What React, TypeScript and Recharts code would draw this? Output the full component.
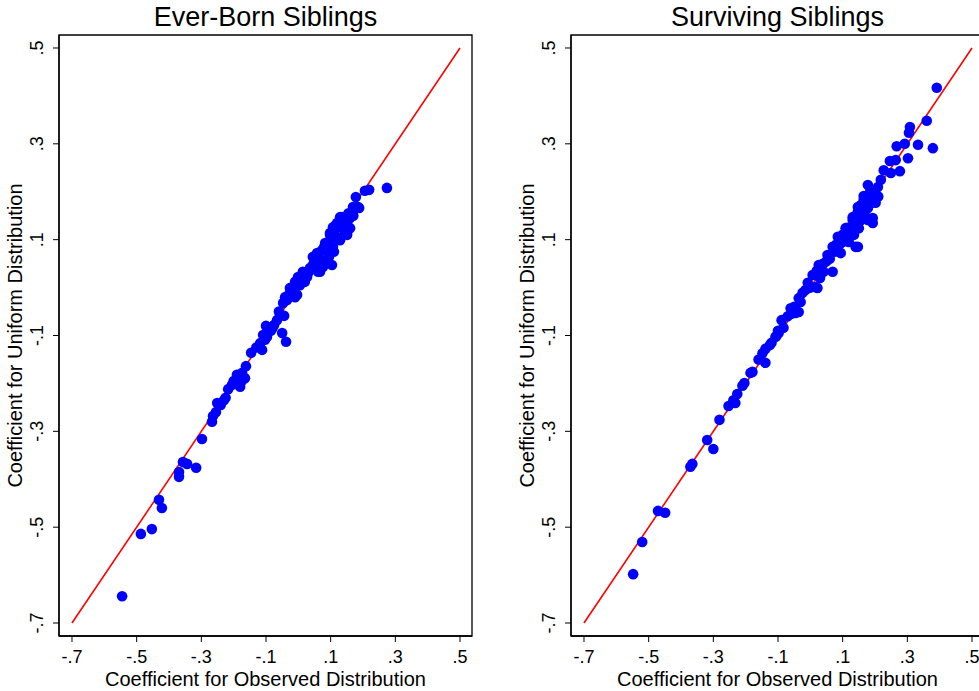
import React from "react";
import { ScatterChart, Scatter, XAxis, YAxis, ReferenceLine, ReferenceArea } from "recharts";

// shared tick values (both axes, both panels)
const tickValues = [-0.7, -0.5, -0.3, -0.1, 0.1, 0.3, 0.5];

// Ever-Born Siblings: observed vs uniform coefficients
const everBornObserved = [
  -0.545, -0.487, -0.453, -0.431, -0.422, -0.369, -0.369, -0.357, -0.344, -0.316,
  -0.298, -0.267, -0.264, -0.255, -0.251, -0.23, -0.217, -0.205, -0.19, -0.174,
  -0.18, -0.165, -0.162, -0.146, -0.112, -0.118, -0.103, -0.097, -0.109, -0.1,
  -0.075, -0.066, -0.05, -0.038, -0.057, -0.044, -0.047, -0.035, -0.026, -0.01,
  -0.016, -0.041, -0.004, -0.026, 0.005, -0.01, -0.001, 0.027, 0.014, 0.061,
  0.036, 0.045, 0.076, 0.104, 0.089, 0.092, 0.045, 0.058, 0.073, 0.107,
  0.083, 0.129, 0.151, 0.098, 0.144, 0.113, 0.12, 0.16, 0.151, 0.16,
  0.135, 0.188, 0.169, 0.178, 0.206, 0.219, 0.274, 0.185, 0.129, 0.067,
  0.125, 0.14, 0.1, 0.065, 0.03, 0.02, -0.015, 0.17, 0.11, 0.095,
  -0.085, -0.06, -0.13, -0.2, -0.175, 0.107, 0.098, 0.123,
  -0.02, 0.01, 0.05, 0.08, 0.115, 0.14, 0.155, -0.12, -0.08, -0.24, -0.225,
];
const everBornUniform = [
  -0.644, -0.514, -0.504, -0.443, -0.46, -0.395, -0.385, -0.364, -0.368, -0.376,
  -0.316, -0.28, -0.268, -0.26, -0.241, -0.235, -0.212, -0.203, -0.182, -0.178,
  -0.207, -0.189, -0.164, -0.136, -0.13, -0.116, -0.109, -0.103, -0.099, -0.08,
  -0.078, -0.068, -0.095, -0.113, -0.057, -0.059, -0.032, -0.026, -0.011, -0.02,
  -0.005, -0.02, -0.015, -0.001, 0.005, 0.012, 0.022, 0.022, 0.033, 0.033,
  0.041, 0.047, 0.043, 0.047, 0.058, 0.072, 0.064, 0.072, 0.078, 0.085,
  0.093, 0.099, 0.11, 0.11, 0.116, 0.12, 0.135, 0.124, 0.135, 0.145,
  0.147, 0.166, 0.168, 0.189, 0.202, 0.204, 0.208, 0.168, 0.147, 0.033,
  0.128, 0.122, 0.1, 0.06, 0.03, 0.012, 0.0, 0.15, 0.075, 0.065,
  -0.09, -0.05, -0.125, -0.195, -0.195, 0.126, 0.114, 0.104,
  0.0, 0.01, 0.05, 0.085, 0.13, 0.14, 0.155, -0.12, -0.085, -0.245, -0.23,
];

// Surviving Siblings
const survivingObserved = [
  -0.548, -0.52, -0.471, -0.449, -0.371, -0.365, -0.3, -0.319, -0.281, -0.253,
  -0.238, -0.232, -0.226, -0.204, -0.185, -0.179, -0.139, -0.139, -0.148, -0.105,
  -0.098, -0.083, -0.089, -0.108, -0.061, -0.046, -0.036, -0.036, -0.024, -0.008,
  0.016, 0.022, 0.007, 0.026, 0.041, 0.069, 0.053, 0.069, 0.094, 0.085,
  0.109, 0.119, 0.14, 0.147, 0.131, 0.15, 0.147, 0.147, 0.178, 0.193,
  0.193, 0.131, 0.147, 0.178, 0.156, 0.202, 0.193, 0.165, 0.209, 0.178,
  0.218, 0.249, 0.227, 0.277, 0.264, 0.246, 0.302, 0.267, 0.292, 0.333,
  0.379, 0.305, 0.308, 0.36, 0.391, 0.1, 0.12, 0.06, 0.04, 0.0,
  -0.015, -0.07, -0.12, 0.16, 0.17, 0.185, 0.11, 0.08, -0.05, 0.03,
  0.09, 0.125, 0.136, 0.165,
  0.02, 0.05, 0.075, 0.1, 0.115, 0.135, 0.155, 0.17, 0.185, 0.2, 0.21,
  -0.03, -0.06, -0.1, -0.125, -0.16, -0.21,
];
const survivingUniform = [
  -0.598, -0.531, -0.466, -0.47, -0.374, -0.368, -0.337, -0.318, -0.276, -0.247,
  -0.235, -0.241, -0.222, -0.199, -0.178, -0.176, -0.128, -0.157, -0.137, -0.101,
  -0.095, -0.084, -0.068, -0.103, -0.043, -0.053, -0.051, -0.022, -0.011, 0.01,
  0.001, -0.001, 0.026, 0.047, 0.033, 0.033, 0.068, 0.085, 0.072, 0.106,
  0.124, 0.095, 0.085, 0.085, 0.141, 0.124, 0.124, 0.168, 0.141, 0.135,
  0.145, 0.147, 0.158, 0.166, 0.172, 0.177, 0.187, 0.191, 0.21, 0.214,
  0.225, 0.239, 0.245, 0.243, 0.266, 0.264, 0.27, 0.295, 0.3, 0.298,
  0.291, 0.323, 0.335, 0.348, 0.417, 0.11, 0.118, 0.06, 0.05, 0.0,
  -0.005, -0.06, -0.115, 0.15, 0.16, 0.175, 0.1, 0.09, -0.04, 0.02,
  0.09, 0.11, 0.128, 0.183,
  0.035, 0.055, 0.075, 0.095, 0.125, 0.11, 0.14, 0.17, 0.2, 0.2, 0.19,
  -0.03, -0.055, -0.09, -0.12, -0.15, -0.205,
];

const FONT = "'Liberation Sans', Arial, Helvetica, sans-serif";
const X_DOMAIN = [-0.7402, 0.5371];
const Y_DOMAIN = [-0.7271, 0.5271];

// Stata style labels: ".5", "-.1"
const fmt = (v: number) => v.toFixed(1).replace(/^(-?)0\./, "$1.");

const XTick = (props: any) => {
  const { x, y, payload } = props;
  return (
    <text x={x} y={y} dy={19} textAnchor="middle" fontSize={18} fontFamily={FONT} fill="#000">
      {fmt(payload.value)}
    </text>
  );
};

const YTick = (props: any) => {
  const { x, y, payload } = props;
  return (
    <text transform={`translate(${x - 8},${y}) rotate(-90)`} textAnchor="middle" fontSize={18} fontFamily={FONT} fill="#000">
      {fmt(payload.value)}
    </text>
  );
};

const Dot = (props: any) => <circle cx={props.cx} cy={props.cy} r={5.3} fill="#0000ff" />;

const Panel = ({ left, title, xs, ys }: { left: number; title: string; xs: number[]; ys: number[] }) => {
  const data = xs.map((x, i) => ({ x, y: ys[i] }));
  return (
    <div style={{ position: "absolute", left, top: 0, width: 490, height: 691 }}>
      <ScatterChart width={490} height={691} margin={{ top: 35, right: 18, bottom: 0, left: 0 }}>
        <XAxis
          type="number"
          dataKey="x"
          domain={X_DOMAIN}
          ticks={tickValues}
          allowDataOverflow
          height={55}
          tickSize={6}
          tick={<XTick />}
          axisLine={{ stroke: "#000", strokeWidth: 1.3 }}
          tickLine={{ stroke: "#000" }}
        />
        <YAxis
          type="number"
          dataKey="y"
          domain={Y_DOMAIN}
          ticks={tickValues}
          allowDataOverflow
          width={59}
          tickSize={6}
          tick={<YTick />}
          axisLine={{ stroke: "#000", strokeWidth: 1.3 }}
          tickLine={{ stroke: "#000" }}
        />
        <ReferenceArea
          x1={X_DOMAIN[0]}
          x2={X_DOMAIN[1]}
          y1={Y_DOMAIN[0]}
          y2={Y_DOMAIN[1]}
          stroke="#000"
          strokeWidth={1.3}
          fill="none"
          fillOpacity={0}
          ifOverflow="visible"
        />
        <Scatter data={data} shape={Dot} isAnimationActive={false} />
        <ReferenceLine
          segment={[{ x: -0.7, y: -0.7 }, { x: 0.5, y: 0.5 }]}
          stroke="#ff0000"
          strokeWidth={1.6}
          ifOverflow="visible"
        />
      </ScatterChart>
      <svg width={490} height={691} style={{ position: "absolute", left: 0, top: 0, pointerEvents: "none" }}>
        <text x={265.5} y={26} textAnchor="middle" fontSize={27} fontFamily={FONT} fill="#000">
          {title}
        </text>
        <text x={265.5} y={686} textAnchor="middle" fontSize={20} fontFamily={FONT} fill="#000">
          Coefficient for Observed Distribution
        </text>
        <text transform="translate(22,335.5) rotate(-90)" textAnchor="middle" fontSize={20} fontFamily={FONT} fill="#000">
          Coefficient for Uniform Distribution
        </text>
      </svg>
    </div>
  );
};

const App = () => (
  <div style={{ position: "fixed", left: 0, top: 0, width: 979, height: 691, overflow: "hidden", background: "#fff" }}>
    <Panel left={0} title="Ever-Born Siblings" xs={everBornObserved} ys={everBornUniform} />
    <Panel left={512} title="Surviving Siblings" xs={survivingObserved} ys={survivingUniform} />
  </div>
);

export default App;
